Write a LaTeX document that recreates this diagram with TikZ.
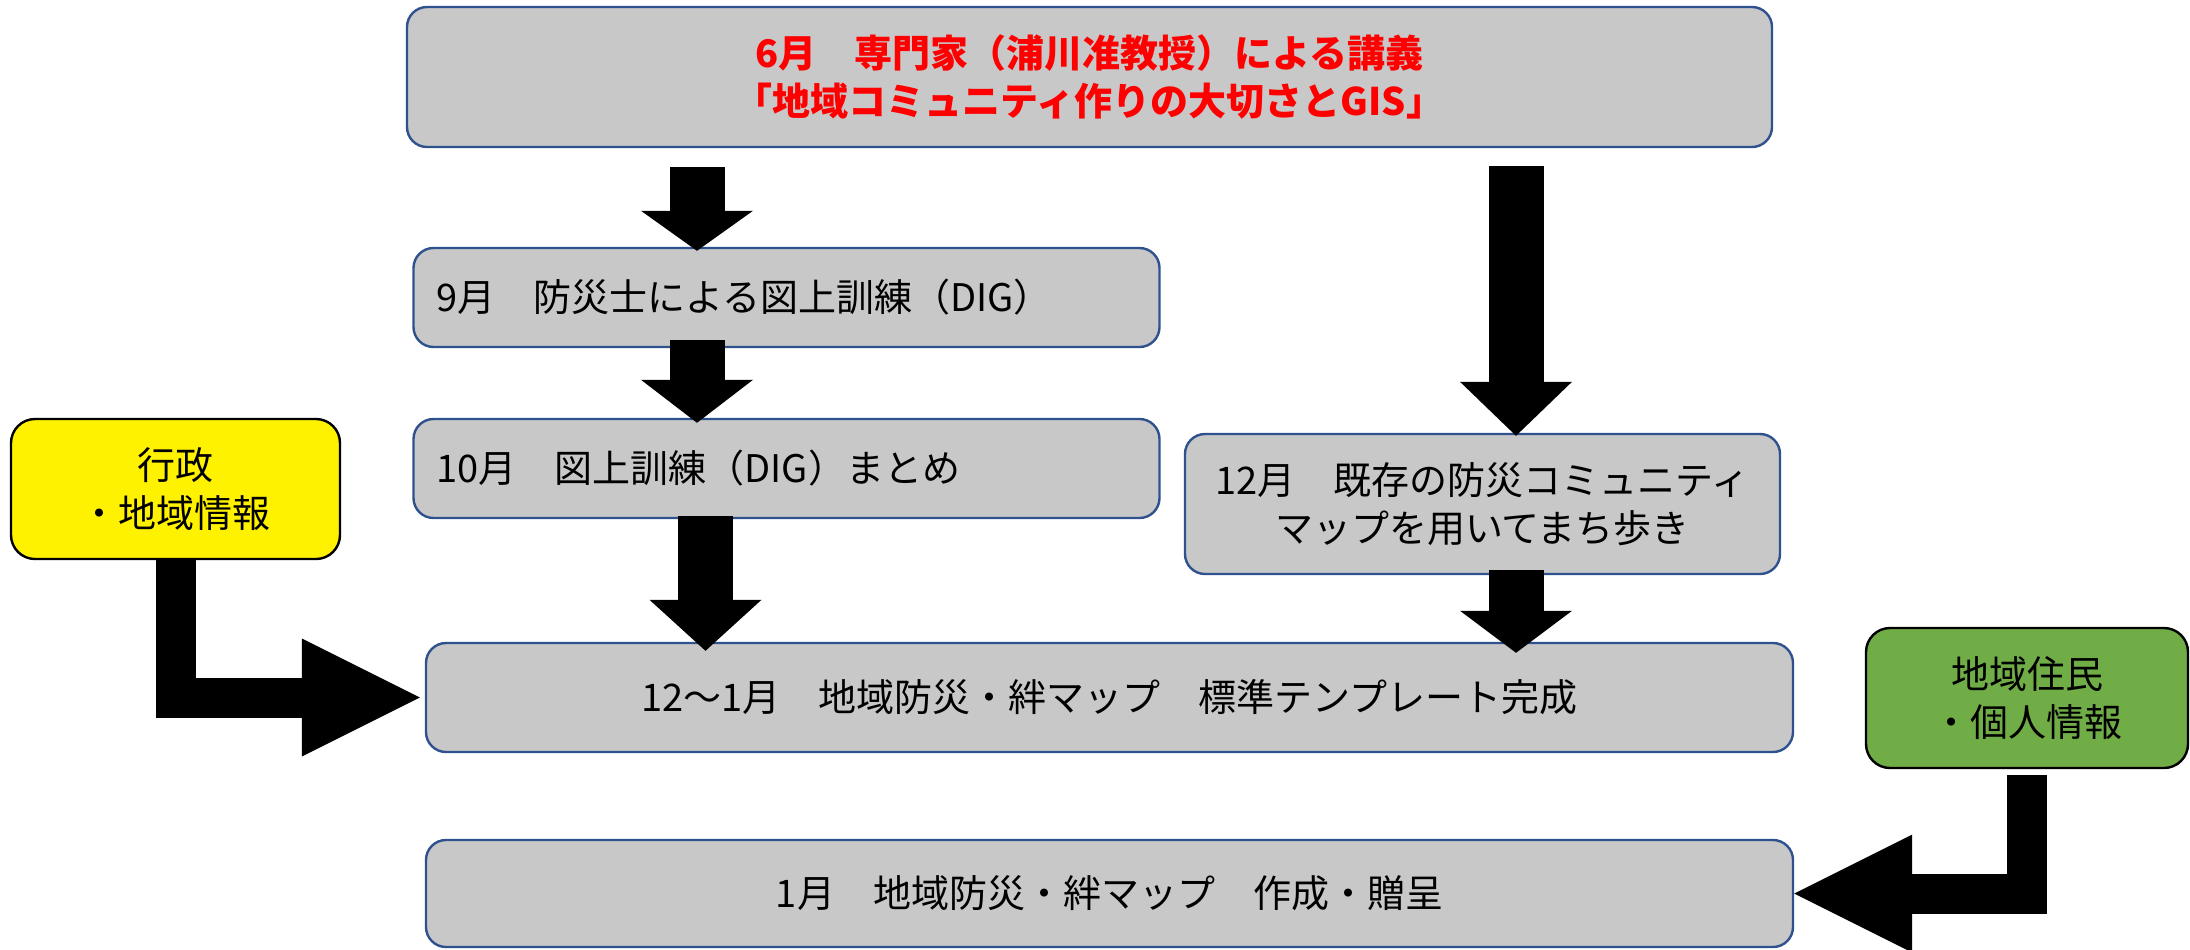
\documentclass[tikz,border=0pt]{standalone}
\usepackage{fontspec}
\setmainfont{Noto Sans CJK JP}
\usetikzlibrary{arrows.meta,calc}
\definecolor{boxgray}{RGB}{200,200,200}
\definecolor{boxblue}{RGB}{47,82,143}
\definecolor{leafgreen}{RGB}{112,173,71}
\newcommand\bodyfont{\fontsize{19}{24}\selectfont}
\begin{document}
\begin{tikzpicture}[x=0.5pt,y=-0.5pt,
  box/.style={draw=boxblue, fill=boxgray, line width=1.2pt, rounded corners=10pt,
    font=\bodyfont, inner sep=0pt, align=center},
  leftbox/.style={box, align=left, inner xsep=11.5pt, text width=350pt},
  side/.style={draw=black, line width=1.2pt, rounded corners=12pt, font=\bodyfont,
    inner sep=0pt, align=center, minimum width=162pt, minimum height=70pt},
  blk/.style={draw=black, line width=27.5pt},
  lblk/.style={draw=black, line width=20pt, line join=miter,
    -{Triangle[length=59pt,width=59pt,line width=0pt]}},
]
\useasboundingbox (0,0) rectangle (2190,949);

% boxes
\node[box, minimum width=682.5pt, minimum height=70pt, text=red, font=\bodyfont\bfseries]
  (top) at (1089.5,77) {6月　専門家（浦川准教授）による講義\\「地域コミュニティ作りの大切さとGIS」};
\node[leftbox, minimum height=49.5pt] (b9) at (786.5,297.5) {9月　防災士による図上訓練（DIG）};
\node[leftbox, minimum height=49.5pt] (b10) at (786.5,468.5) {10月　図上訓練（DIG）まとめ};
\node[box, minimum width=297.5pt, minimum height=70pt] (b12) at (1482.5,504)
  {12月　既存の防災コミュニティ\\マップを用いてまち歩き};
\node[box, minimum width=683.5pt, minimum height=54.5pt] (b121) at (1109.5,697.5)
  {12〜1月　地域防災・絆マップ　標準テンプレート完成};
\node[box, minimum width=683.5pt, minimum height=53.5pt] (b1) at (1109.5,893.5)
  {1月　地域防災・絆マップ　作成・贈呈};
\node[side, fill=yellow, minimum width=164.5pt] (yel) at (175.5,489) {行政\\・地域情報};
\node[side, fill=leafgreen, minimum width=161pt] (grn) at (2027,698) {地域住民\\・個人情報};

% arrow columns
\coordinate (c1) at (697,0);
\coordinate (c2) at (1516,0);
\coordinate (c3) at (705.5,0);

% block arrows
\draw[blk, -{Triangle[length=20pt,width=56pt,line width=0pt]}, shorten <=9.5pt, shorten >=-2pt]
  (top.south -| c1) -- (b9.north -| c1);
\draw[blk, -{Triangle[length=27pt,width=56pt,line width=0pt]}, shorten <=9pt, shorten >=-1.5pt]
  (top.south -| c2) -- (b12.north -| c2);
\draw[blk, -{Triangle[length=21.5pt,width=56pt,line width=0pt]}, shorten <=-4pt, shorten >=-2.5pt]
  (b9.south -| c1) -- (b10.north -| c1);
\draw[blk, -{Triangle[length=25.5pt,width=56pt,line width=0pt]}, shorten <=-1.5pt, shorten >=-4.5pt]
  (b10.south -| c3) -- (b121.north -| c3);
\draw[blk, -{Triangle[length=21pt,width=56pt,line width=0pt]}, shorten <=-2.5pt, shorten >=-5.5pt]
  (b12.south -| c2) -- (b121.north -| c2);
\draw[lblk, shorten >=2.5pt] (yel.south) |- (b121.west);
\draw[lblk, shorten <=3pt] (grn.south) |- (b1.east);
\end{tikzpicture}
\end{document}
